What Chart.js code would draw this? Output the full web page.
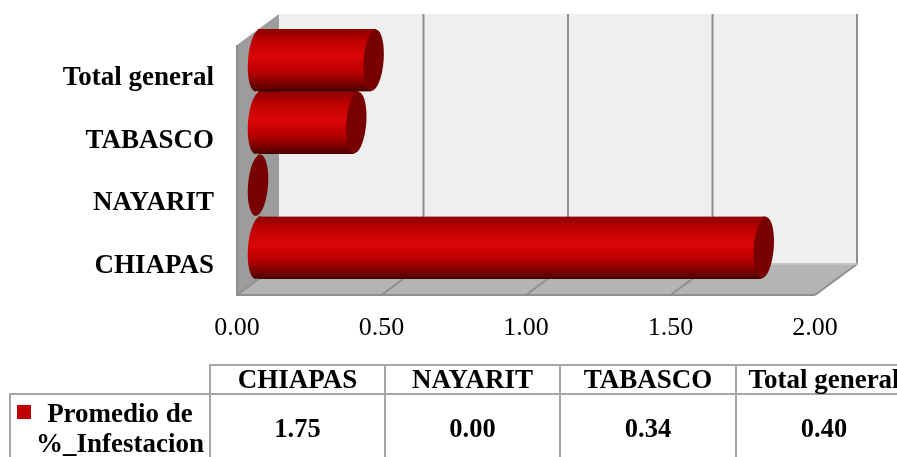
<!DOCTYPE html>
<html lang="es">
  <head>
    <meta charset="UTF-8" />
    <title>Promedio de %_Infestacion</title>
    <style>
      html, body {
        margin: 0;
        width: 897px;
        height: 457px;
        overflow: hidden;
        background: white;
        font-family: "Liberation Serif", serif;
      }
      #chart {
        position: absolute;
        left: 0;
        top: 0;
      }
      #tabla {
        position: absolute;
        left: 9px;
        top: 364px;
        width: 902px;
        table-layout: fixed;
        border-collapse: collapse;
        font-weight: bold;
        font-size: 26.5px;
        color: black;
        text-align: center;
      }
      #tabla td {
        border: 2px solid #a6a6a6;
        padding: 0;
        white-space: nowrap;
      }
      #tabla tr.cabecera td {
        height: 27px;
        line-height: 27px;
        font-size: 27px;
      }
      #tabla td.vacia {
        border-top: none;
        border-left: none;
      }
      #tabla td.serie {
        position: relative;
        line-height: 30px;
        height: 66px;
        padding-left: 20px;
        font-size: 27px;
        white-space: pre;
      }
      #tabla .muestra {
        position: absolute;
        left: 6px;
        top: 10px;
        width: 14px;
        height: 14px;
        background: #c00000;
      }
    </style>
  </head>
  <body>
    <canvas id="chart" width="897" height="457"></canvas>
    <table id="tabla">
      <colgroup>
        <col style="width: 200px" />
        <col style="width: 175px" />
        <col style="width: 175px" />
        <col style="width: 176px" />
        <col style="width: 176px" />
      </colgroup>
      <tr class="cabecera" id="filaCabecera"><td class="vacia"></td></tr>
      <tr id="filaValores"></tr>
    </table>

    <script src="https://cdn.jsdelivr.net/npm/chart.js"></script>
    <script>
      // Datos del grafico
      const estados = ["CHIAPAS", "NAYARIT", "TABASCO", "Total general"];
      const infestacion = [1.75, 0.0, 0.34, 0.4];
      const serieNombre = "Promedio de\n%_Infestacion";
      const ticksX = [0, 0.5, 1, 1.5, 2];

      // Profundidad del efecto 3D
      const fondoX = 42;
      const fondoY = -31;
      const barraX = 21;
      const barraY = -16;
      const radioTapa = 10;
      const giroTapa = 0.08;

      // Tabla de datos debajo del grafico
      const filaCabecera = document.getElementById("filaCabecera");
      const filaValores = document.getElementById("filaValores");
      const celdaSerie = document.createElement("td");
      celdaSerie.className = "serie";
      celdaSerie.innerHTML = '<span class="muestra"></span>';
      celdaSerie.appendChild(document.createTextNode(serieNombre));
      filaValores.appendChild(celdaSerie);
      estados.forEach((estado, i) => {
        const th = document.createElement("td");
        th.textContent = estado;
        filaCabecera.appendChild(th);
        const td = document.createElement("td");
        td.textContent = infestacion[i].toFixed(2);
        filaValores.appendChild(td);
      });

      function degradado(ctx, arriba, abajo) {
        const g = ctx.createLinearGradient(0, arriba, 0, abajo);
        g.addColorStop(0, "#8c0000");
        g.addColorStop(0.2, "#c00000");
        g.addColorStop(0.45, "#da0606");
        g.addColorStop(0.7, "#b80000");
        g.addColorStop(0.9, "#700000");
        g.addColorStop(1, "#480000");
        return g;
      }

      function poligono(ctx, puntos, relleno) {
        ctx.beginPath();
        puntos.forEach((p, i) => (i ? ctx.lineTo(p[0], p[1]) : ctx.moveTo(p[0], p[1])));
        ctx.closePath();
        ctx.fillStyle = relleno;
        ctx.fill();
      }

      // Paredes, piso y lineas de division
      const caja3d = {
        id: "caja3d",
        beforeDatasetsDraw(chart) {
          const { ctx, chartArea: a, scales } = chart;
          const l = a.left, r = a.right, t = a.top, b = a.bottom;
          ctx.save();
          poligono(ctx, [[l + fondoX, t + fondoY], [r + fondoX, t + fondoY], [r + fondoX, b + fondoY], [l + fondoX, b + fondoY]], "#efefef");
          poligono(ctx, [[l, b], [l + fondoX, b + fondoY], [r + fondoX, b + fondoY], [r, b]], "#b4b4b4");
          poligono(ctx, [[l, t], [l + fondoX, t + fondoY], [l + fondoX, b + fondoY], [l, b]], "#9c9c9c");

          ctx.strokeStyle = "#8f8f8f";
          ctx.lineWidth = 2;
          ticksX.forEach((v) => {
            const x = scales.x.getPixelForValue(v);
            ctx.beginPath();
            ctx.moveTo(x, b);
            ctx.lineTo(x + fondoX, b + fondoY);
            if (v > 0) ctx.lineTo(x + fondoX, t + fondoY);
            ctx.stroke();
          });
          ctx.beginPath();
          ctx.moveTo(l, t);
          ctx.lineTo(l, b);
          ctx.lineTo(r, b);
          ctx.stroke();
          ctx.strokeStyle = "#c4c4c4";
          ctx.beginPath();
          ctx.moveTo(l + fondoX, b + fondoY);
          ctx.lineTo(r + fondoX, b + fondoY);
          ctx.stroke();
          ctx.restore();

          // Extremo izquierdo de cada cilindro, antes de las barras
          ctx.save();
          ctx.translate(barraX, barraY);
          const barras = chart.getDatasetMeta(0).data;
          barras.forEach((bar) => {
            const arriba = bar.y - bar.height / 2;
            const abajo = bar.y + bar.height / 2;
            if (infestacion[bar.$context.index] > 0) {
              ctx.beginPath();
              ctx.ellipse(bar.base, bar.y, radioTapa, bar.height / 2, giroTapa, 0, Math.PI * 2);
              ctx.fillStyle = degradado(ctx, arriba, abajo);
              ctx.fill();
            }
          });

          // Recorta el final de las barras para seguir la inclinacion de la tapa
          ctx.save();
          ctx.beginPath();
          barras.forEach((bar) => {
            const ry = bar.height / 2;
            const dx = Math.sin(giroTapa) * ry;
            ctx.moveTo(bar.base - 1, bar.y - ry);
            ctx.lineTo(bar.x + dx, bar.y - ry);
            ctx.lineTo(bar.x - dx, bar.y + ry);
            ctx.lineTo(bar.base - 1, bar.y + ry);
            ctx.closePath();
          });
          ctx.clip();
        },
        afterDatasetsDraw(chart) {
          const { ctx } = chart;
          ctx.restore();
          // Tapas oscuras, de arriba hacia abajo
          const barras = chart.getDatasetMeta(0).data.slice().reverse();
          barras.forEach((bar) => {
            const ry = bar.height / 2;
            const arriba = bar.y - ry;
            const abajo = bar.y + ry;
            const dx = Math.sin(giroTapa) * ry;
            if (infestacion[bar.$context.index] > 0) {
              poligono(ctx, [[bar.x - 1, arriba], [bar.x + dx, arriba], [bar.x, bar.y], [bar.x - 1, bar.y]], degradado(ctx, arriba, abajo));
            }
            ctx.beginPath();
            ctx.ellipse(bar.x, bar.y, radioTapa, ry - 0.5, giroTapa, 0, Math.PI * 2);
            ctx.fillStyle = "#780000";
            ctx.fill();
          });
          ctx.restore();
        },
      };

      new Chart(document.getElementById("chart").getContext("2d"), {
        type: "bar",
        data: {
          labels: estados,
          datasets: [
            {
              label: "Promedio de %_Infestacion",
              data: infestacion,
              barPercentage: 1,
              categoryPercentage: 1,
              borderWidth: 0,
              backgroundColor: (c) => {
                const chart = c.chart;
                if (!chart.chartArea) return "#c00000";
                const y = chart.scales.y.getPixelForValue(c.dataIndex);
                const mitad = chart.chartArea.height / estados.length / 2;
                return degradado(chart.ctx, y - mitad, y + mitad);
              },
            },
          ],
        },
        options: {
          indexAxis: "y",
          responsive: false,
          animation: false,
          layout: { padding: { top: 45, right: 82, bottom: 102, left: 0 } },
          plugins: {
            legend: { display: false },
            tooltip: { enabled: false },
          },
          scales: {
            x: {
              min: 0,
              max: 2,
              afterBuildTicks: (axis) => {
                axis.ticks = ticksX.map((v) => ({ value: v }));
              },
              afterFit: (axis) => {
                axis.height = 60;
              },
              grid: { display: false },
              border: { display: false },
              ticks: {
                padding: 10,
                maxRotation: 0,
                color: "black",
                font: { family: "Liberation Serif", size: 26 },
                callback: (v) => Number(v).toFixed(2),
              },
            },
            y: {
              reverse: true,
              afterFit: (axis) => {
                axis.width = 237;
              },
              grid: { display: false },
              border: { display: false },
              ticks: {
                padding: 15,
                labelOffset: 2,
                color: "black",
                font: { family: "Liberation Serif", size: 27, weight: "bold" },
              },
            },
          },
        },
        plugins: [caja3d],
      });
    </script>
  </body>
</html>
